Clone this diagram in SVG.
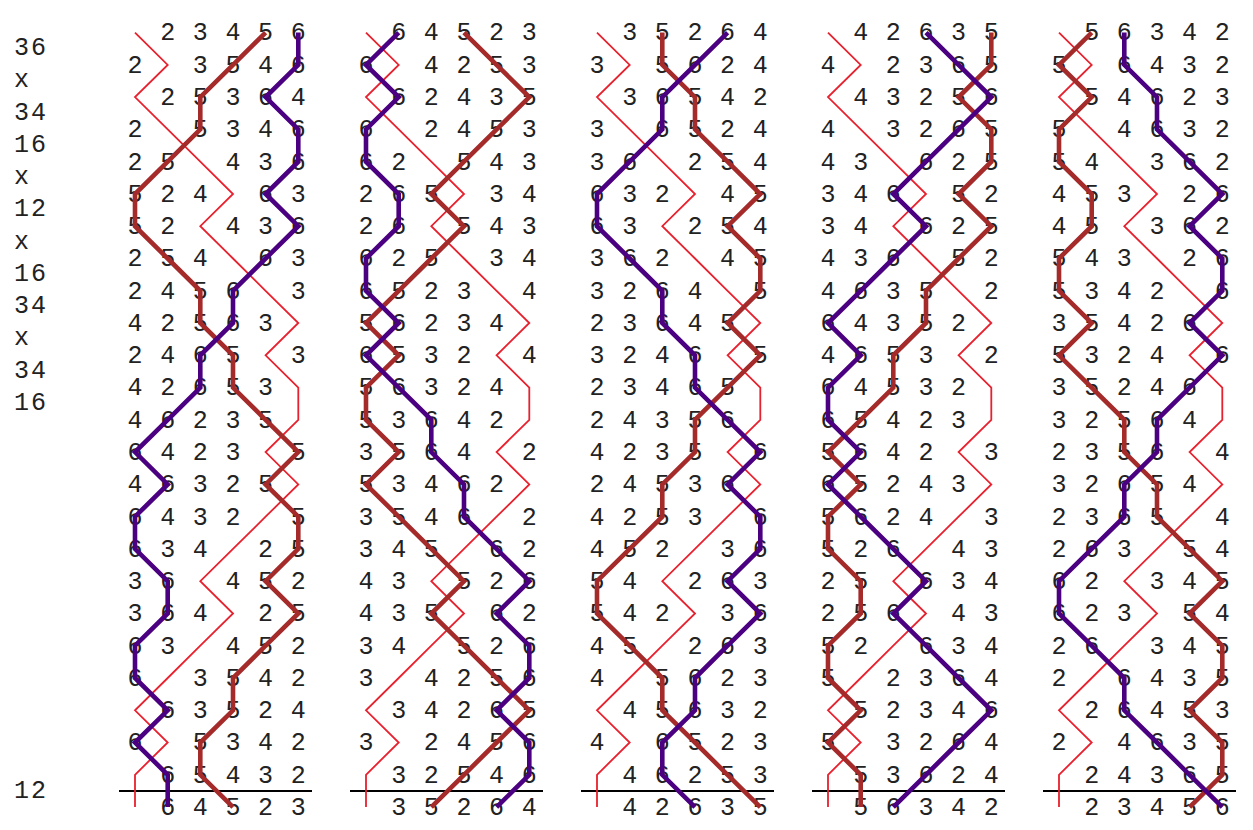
<svg xmlns="http://www.w3.org/2000/svg" xmlns:xlink="http://www.w3.org/1999/xlink" width="1253" height="830" viewBox="0 0 1253 830">
<style>
text{font-family:"Liberation Mono","Courier New",monospace;font-size:25px;fill:#222}
.lab{letter-spacing:2px}
.r{text-anchor:middle}
.red{fill:none;stroke:#e8212e;stroke-width:1.8}
.brown{fill:none;stroke:#a52a2a;stroke-width:4.6}
.purple{fill:none;stroke:#4b0082;stroke-width:4.6}
.le{stroke:#000;stroke-width:2.2}
</style>
<defs>
<polyline id="p1" points="135,32.6 167.7,64.9 135,97.1 167.7,129.4 200.3,161.7 233,194 200.3,226.2 233,258.5 265.6,290.8 298.3,323 265.6,355.3 298.3,387.6 298.3,419.8 265.6,452.1 298.3,484.4 265.6,516.7 233,548.9 200.3,581.2 233,613.5 200.3,645.7 167.7,678 135,710.3 167.7,742.5 135,774.8 135,807.1"/>
<polyline id="p2" points="167.7,32.6 135,64.9 167.7,97.1 135,129.4 135,161.7 167.7,194 167.7,226.2 135,258.5 135,290.8 167.7,323 135,355.3 167.7,387.6 200.3,419.8 200.3,452.1 233,484.4 233,516.7 265.6,548.9 298.3,581.2 265.6,613.5 298.3,645.7 298.3,678 265.6,710.3 298.3,742.5 298.3,774.8 265.6,807.1"/>
<polyline id="p3" points="200.3,32.6 200.3,64.9 233,97.1 233,129.4 265.6,161.7 298.3,194 265.6,226.2 298.3,258.5 298.3,290.8 265.6,323 298.3,355.3 265.6,387.6 233,419.8 233,452.1 200.3,484.4 200.3,516.7 167.7,548.9 135,581.2 135,613.5 167.7,645.7 200.3,678 200.3,710.3 233,742.5 265.6,774.8 298.3,807.1"/>
<polyline id="p4" points="233,32.6 265.6,64.9 298.3,97.1 265.6,129.4 233,161.7 200.3,194 233,226.2 200.3,258.5 167.7,290.8 135,323 167.7,355.3 135,387.6 135,419.8 167.7,452.1 135,484.4 167.7,516.7 200.3,548.9 233,581.2 200.3,613.5 233,645.7 265.6,678 298.3,710.3 265.6,742.5 233,774.8 200.3,807.1"/>
<polyline id="p5" points="265.6,32.6 233,64.9 200.3,97.1 200.3,129.4 167.7,161.7 135,194 135,226.2 167.7,258.5 200.3,290.8 200.3,323 233,355.3 233,387.6 265.6,419.8 298.3,452.1 265.6,484.4 298.3,516.7 298.3,548.9 265.6,581.2 298.3,613.5 265.6,645.7 233,678 233,710.3 200.3,742.5 200.3,774.8 233,807.1"/>
<polyline id="p6" points="298.3,32.6 298.3,64.9 265.6,97.1 298.3,129.4 298.3,161.7 265.6,194 298.3,226.2 265.6,258.5 233,290.8 233,323 200.3,355.3 200.3,387.6 167.7,419.8 135,452.1 167.7,484.4 135,516.7 135,548.9 167.7,581.2 167.7,613.5 135,645.7 135,678 167.7,710.3 135,742.5 167.7,774.8 167.7,807.1"/>
<line id="leline" x1="119" y1="791" x2="312" y2="791"/>
</defs>
<g id="labels">
<text class="lab" x="14" y="55">36</text>
<text class="lab" x="14" y="87.3">x</text>
<text class="lab" x="14" y="119.5">34</text>
<text class="lab" x="14" y="151.8">16</text>
<text class="lab" x="14" y="184.1">x</text>
<text class="lab" x="14" y="216.4">12</text>
<text class="lab" x="14" y="248.6">x</text>
<text class="lab" x="14" y="280.9">16</text>
<text class="lab" x="14" y="313.2">34</text>
<text class="lab" x="14" y="345.4">x</text>
<text class="lab" x="14" y="377.7">34</text>
<text class="lab" x="14" y="410">16</text>
<text class="lab" x="14" y="797.5">12</text>
</g>
<g id="lead1">
<text class="r" x="167.7 200.3 233 265.6 298.3" y="40.4">23456</text>
<text class="r" x="135 200.3 233 265.6 298.3" y="72.7">23546</text>
<text class="r" x="167.7 200.3 233 265.6 298.3" y="104.9">25364</text>
<text class="r" x="135 200.3 233 265.6 298.3" y="137.2">25346</text>
<text class="r" x="135 167.7 233 265.6 298.3" y="169.5">25436</text>
<text class="r" x="135 167.7 200.3 265.6 298.3" y="201.8">52463</text>
<text class="r" x="135 167.7 233 265.6 298.3" y="234">52436</text>
<text class="r" x="135 167.7 200.3 265.6 298.3" y="266.3">25463</text>
<text class="r" x="135 167.7 200.3 233 298.3" y="298.6">24563</text>
<text class="r" x="135 167.7 200.3 233 265.6" y="330.8">42563</text>
<text class="r" x="135 167.7 200.3 233 298.3" y="363.1">24653</text>
<text class="r" x="135 167.7 200.3 233 265.6" y="395.4">42653</text>
<text class="r" x="135 167.7 200.3 233 265.6" y="427.6">46235</text>
<text class="r" x="135 167.7 200.3 233 298.3" y="459.9">64235</text>
<text class="r" x="135 167.7 200.3 233 265.6" y="492.2">46325</text>
<text class="r" x="135 167.7 200.3 233 298.3" y="524.5">64325</text>
<text class="r" x="135 167.7 200.3 265.6 298.3" y="556.7">63425</text>
<text class="r" x="135 167.7 233 265.6 298.3" y="589">36452</text>
<text class="r" x="135 167.7 200.3 265.6 298.3" y="621.3">36425</text>
<text class="r" x="135 167.7 233 265.6 298.3" y="653.5">63452</text>
<text class="r" x="135 200.3 233 265.6 298.3" y="685.8">63542</text>
<text class="r" x="167.7 200.3 233 265.6 298.3" y="718.1">63524</text>
<text class="r" x="135 200.3 233 265.6 298.3" y="750.3">65342</text>
<text class="r" x="167.7 200.3 233 265.6 298.3" y="782.6">65432</text>
<text class="r" x="167.7 200.3 233 265.6 298.3" y="814.9">64523</text>
<use xlink:href="#leline" class="le"/>
<use xlink:href="#p1" class="red"/>
<use xlink:href="#p5" class="brown"/>
<use xlink:href="#p6" class="purple"/>
</g>
<g id="lead2" transform="translate(231,0)">
<text class="r" x="167.7 200.3 233 265.6 298.3" y="40.4">64523</text>
<text class="r" x="135 200.3 233 265.6 298.3" y="72.7">64253</text>
<text class="r" x="167.7 200.3 233 265.6 298.3" y="104.9">62435</text>
<text class="r" x="135 200.3 233 265.6 298.3" y="137.2">62453</text>
<text class="r" x="135 167.7 233 265.6 298.3" y="169.5">62543</text>
<text class="r" x="135 167.7 200.3 265.6 298.3" y="201.8">26534</text>
<text class="r" x="135 167.7 233 265.6 298.3" y="234">26543</text>
<text class="r" x="135 167.7 200.3 265.6 298.3" y="266.3">62534</text>
<text class="r" x="135 167.7 200.3 233 298.3" y="298.6">65234</text>
<text class="r" x="135 167.7 200.3 233 265.6" y="330.8">56234</text>
<text class="r" x="135 167.7 200.3 233 298.3" y="363.1">65324</text>
<text class="r" x="135 167.7 200.3 233 265.6" y="395.4">56324</text>
<text class="r" x="135 167.7 200.3 233 265.6" y="427.6">53642</text>
<text class="r" x="135 167.7 200.3 233 298.3" y="459.9">35642</text>
<text class="r" x="135 167.7 200.3 233 265.6" y="492.2">53462</text>
<text class="r" x="135 167.7 200.3 233 298.3" y="524.5">35462</text>
<text class="r" x="135 167.7 200.3 265.6 298.3" y="556.7">34562</text>
<text class="r" x="135 167.7 233 265.6 298.3" y="589">43526</text>
<text class="r" x="135 167.7 200.3 265.6 298.3" y="621.3">43562</text>
<text class="r" x="135 167.7 233 265.6 298.3" y="653.5">34526</text>
<text class="r" x="135 200.3 233 265.6 298.3" y="685.8">34256</text>
<text class="r" x="167.7 200.3 233 265.6 298.3" y="718.1">34265</text>
<text class="r" x="135 200.3 233 265.6 298.3" y="750.3">32456</text>
<text class="r" x="167.7 200.3 233 265.6 298.3" y="782.6">32546</text>
<text class="r" x="167.7 200.3 233 265.6 298.3" y="814.9">35264</text>
<use xlink:href="#leline" class="le"/>
<use xlink:href="#p1" class="red"/>
<use xlink:href="#p4" class="brown"/>
<use xlink:href="#p2" class="purple"/>
</g>
<g id="lead3" transform="translate(462,0)">
<text class="r" x="167.7 200.3 233 265.6 298.3" y="40.4">35264</text>
<text class="r" x="135 200.3 233 265.6 298.3" y="72.7">35624</text>
<text class="r" x="167.7 200.3 233 265.6 298.3" y="104.9">36542</text>
<text class="r" x="135 200.3 233 265.6 298.3" y="137.2">36524</text>
<text class="r" x="135 167.7 233 265.6 298.3" y="169.5">36254</text>
<text class="r" x="135 167.7 200.3 265.6 298.3" y="201.8">63245</text>
<text class="r" x="135 167.7 233 265.6 298.3" y="234">63254</text>
<text class="r" x="135 167.7 200.3 265.6 298.3" y="266.3">36245</text>
<text class="r" x="135 167.7 200.3 233 298.3" y="298.6">32645</text>
<text class="r" x="135 167.7 200.3 233 265.6" y="330.8">23645</text>
<text class="r" x="135 167.7 200.3 233 298.3" y="363.1">32465</text>
<text class="r" x="135 167.7 200.3 233 265.6" y="395.4">23465</text>
<text class="r" x="135 167.7 200.3 233 265.6" y="427.6">24356</text>
<text class="r" x="135 167.7 200.3 233 298.3" y="459.9">42356</text>
<text class="r" x="135 167.7 200.3 233 265.6" y="492.2">24536</text>
<text class="r" x="135 167.7 200.3 233 298.3" y="524.5">42536</text>
<text class="r" x="135 167.7 200.3 265.6 298.3" y="556.7">45236</text>
<text class="r" x="135 167.7 233 265.6 298.3" y="589">54263</text>
<text class="r" x="135 167.7 200.3 265.6 298.3" y="621.3">54236</text>
<text class="r" x="135 167.7 233 265.6 298.3" y="653.5">45263</text>
<text class="r" x="135 200.3 233 265.6 298.3" y="685.8">45623</text>
<text class="r" x="167.7 200.3 233 265.6 298.3" y="718.1">45632</text>
<text class="r" x="135 200.3 233 265.6 298.3" y="750.3">46523</text>
<text class="r" x="167.7 200.3 233 265.6 298.3" y="782.6">46253</text>
<text class="r" x="167.7 200.3 233 265.6 298.3" y="814.9">42635</text>
<use xlink:href="#leline" class="le"/>
<use xlink:href="#p1" class="red"/>
<use xlink:href="#p3" class="brown"/>
<use xlink:href="#p5" class="purple"/>
</g>
<g id="lead4" transform="translate(693,0)">
<text class="r" x="167.7 200.3 233 265.6 298.3" y="40.4">42635</text>
<text class="r" x="135 200.3 233 265.6 298.3" y="72.7">42365</text>
<text class="r" x="167.7 200.3 233 265.6 298.3" y="104.9">43256</text>
<text class="r" x="135 200.3 233 265.6 298.3" y="137.2">43265</text>
<text class="r" x="135 167.7 233 265.6 298.3" y="169.5">43625</text>
<text class="r" x="135 167.7 200.3 265.6 298.3" y="201.8">34652</text>
<text class="r" x="135 167.7 233 265.6 298.3" y="234">34625</text>
<text class="r" x="135 167.7 200.3 265.6 298.3" y="266.3">43652</text>
<text class="r" x="135 167.7 200.3 233 298.3" y="298.6">46352</text>
<text class="r" x="135 167.7 200.3 233 265.6" y="330.8">64352</text>
<text class="r" x="135 167.7 200.3 233 298.3" y="363.1">46532</text>
<text class="r" x="135 167.7 200.3 233 265.6" y="395.4">64532</text>
<text class="r" x="135 167.7 200.3 233 265.6" y="427.6">65423</text>
<text class="r" x="135 167.7 200.3 233 298.3" y="459.9">56423</text>
<text class="r" x="135 167.7 200.3 233 265.6" y="492.2">65243</text>
<text class="r" x="135 167.7 200.3 233 298.3" y="524.5">56243</text>
<text class="r" x="135 167.7 200.3 265.6 298.3" y="556.7">52643</text>
<text class="r" x="135 167.7 233 265.6 298.3" y="589">25634</text>
<text class="r" x="135 167.7 200.3 265.6 298.3" y="621.3">25643</text>
<text class="r" x="135 167.7 233 265.6 298.3" y="653.5">52634</text>
<text class="r" x="135 200.3 233 265.6 298.3" y="685.8">52364</text>
<text class="r" x="167.7 200.3 233 265.6 298.3" y="718.1">52346</text>
<text class="r" x="135 200.3 233 265.6 298.3" y="750.3">53264</text>
<text class="r" x="167.7 200.3 233 265.6 298.3" y="782.6">53624</text>
<text class="r" x="167.7 200.3 233 265.6 298.3" y="814.9">56342</text>
<use xlink:href="#leline" class="le"/>
<use xlink:href="#p1" class="red"/>
<use xlink:href="#p6" class="brown"/>
<use xlink:href="#p4" class="purple"/>
</g>
<g id="lead5" transform="translate(924,0)">
<text class="r" x="167.7 200.3 233 265.6 298.3" y="40.4">56342</text>
<text class="r" x="135 200.3 233 265.6 298.3" y="72.7">56432</text>
<text class="r" x="167.7 200.3 233 265.6 298.3" y="104.9">54623</text>
<text class="r" x="135 200.3 233 265.6 298.3" y="137.2">54632</text>
<text class="r" x="135 167.7 233 265.6 298.3" y="169.5">54362</text>
<text class="r" x="135 167.7 200.3 265.6 298.3" y="201.8">45326</text>
<text class="r" x="135 167.7 233 265.6 298.3" y="234">45362</text>
<text class="r" x="135 167.7 200.3 265.6 298.3" y="266.3">54326</text>
<text class="r" x="135 167.7 200.3 233 298.3" y="298.6">53426</text>
<text class="r" x="135 167.7 200.3 233 265.6" y="330.8">35426</text>
<text class="r" x="135 167.7 200.3 233 298.3" y="363.1">53246</text>
<text class="r" x="135 167.7 200.3 233 265.6" y="395.4">35246</text>
<text class="r" x="135 167.7 200.3 233 265.6" y="427.6">32564</text>
<text class="r" x="135 167.7 200.3 233 298.3" y="459.9">23564</text>
<text class="r" x="135 167.7 200.3 233 265.6" y="492.2">32654</text>
<text class="r" x="135 167.7 200.3 233 298.3" y="524.5">23654</text>
<text class="r" x="135 167.7 200.3 265.6 298.3" y="556.7">26354</text>
<text class="r" x="135 167.7 233 265.6 298.3" y="589">62345</text>
<text class="r" x="135 167.7 200.3 265.6 298.3" y="621.3">62354</text>
<text class="r" x="135 167.7 233 265.6 298.3" y="653.5">26345</text>
<text class="r" x="135 200.3 233 265.6 298.3" y="685.8">26435</text>
<text class="r" x="167.7 200.3 233 265.6 298.3" y="718.1">26453</text>
<text class="r" x="135 200.3 233 265.6 298.3" y="750.3">24635</text>
<text class="r" x="167.7 200.3 233 265.6 298.3" y="782.6">24365</text>
<text class="r" x="167.7 200.3 233 265.6 298.3" y="814.9">23456</text>
<use xlink:href="#leline" class="le"/>
<use xlink:href="#p1" class="red"/>
<use xlink:href="#p2" class="brown"/>
<use xlink:href="#p3" class="purple"/>
</g>
</svg>
